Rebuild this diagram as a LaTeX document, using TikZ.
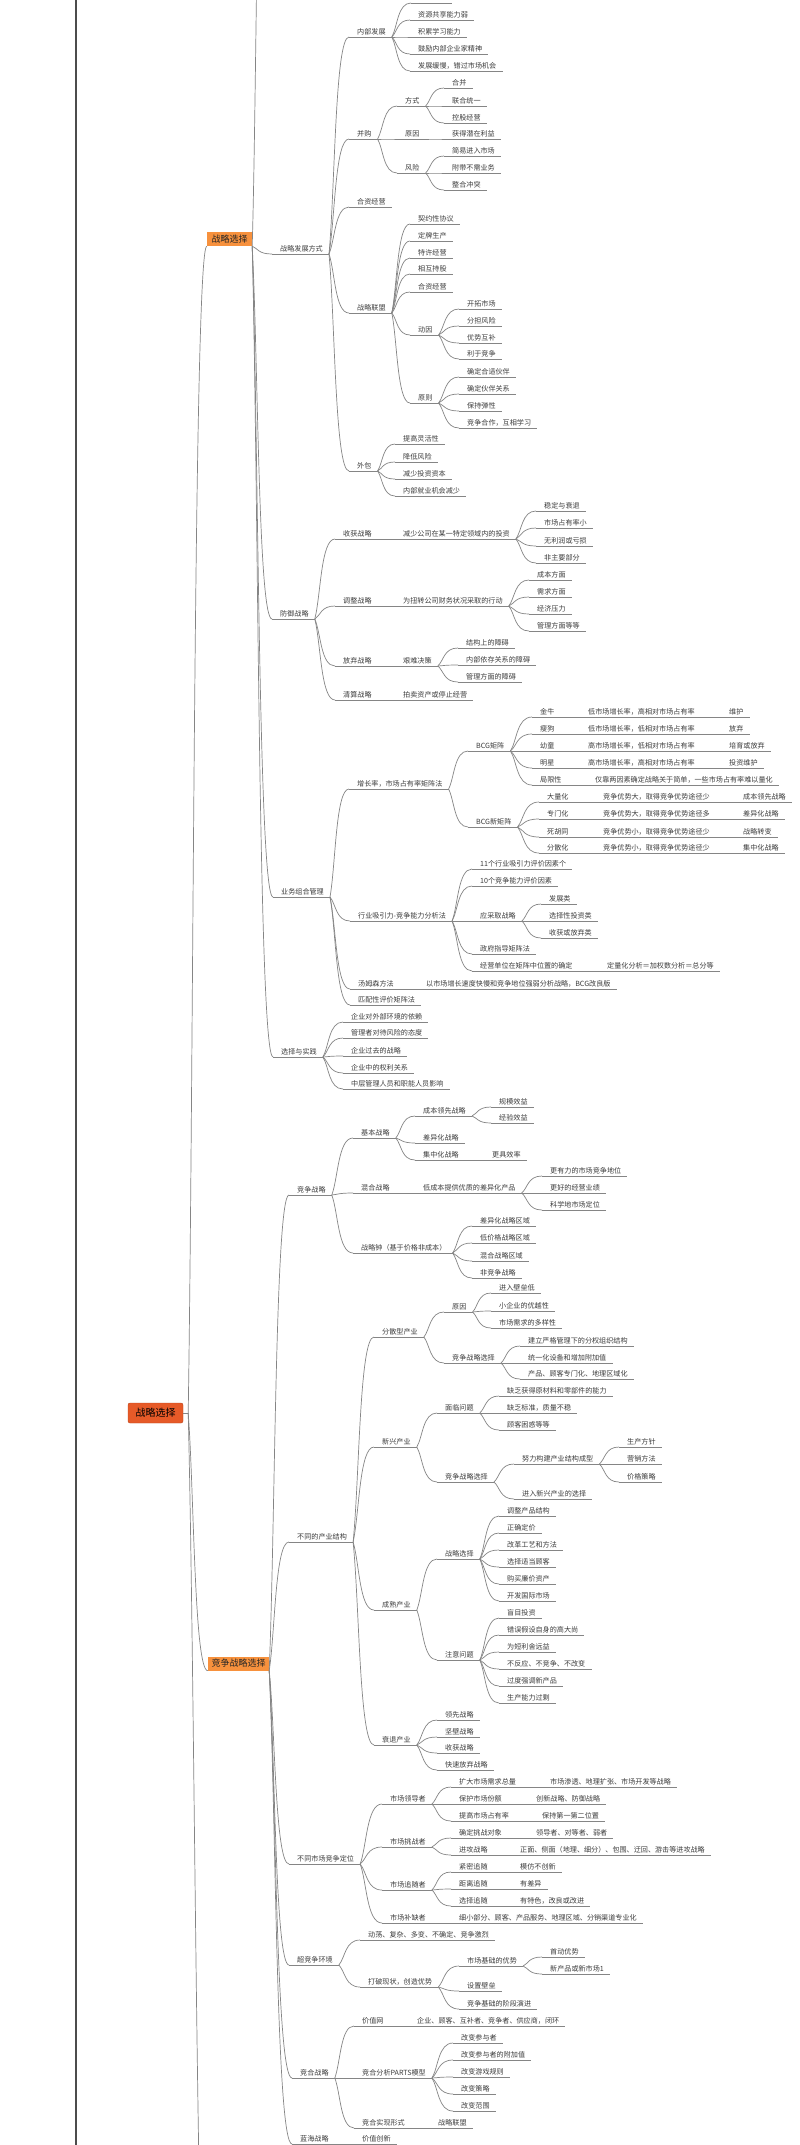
\documentclass[tikz,border=0pt]{standalone}
\usepackage{fontspec}
\setmainfont{Noto Sans CJK SC}
\usetikzlibrary{calc}
\definecolor{txt}{HTML}{3C3C3C}
\definecolor{lc}{HTML}{858585}
\definecolor{org}{HTML}{F7913D}
\definecolor{redf}{HTML}{E65A28}
\definecolor{redd}{HTML}{B8441C}
\newcommand\fs{\fontsize{7.1}{8}\selectfont}
\tikzset{
 tn/.style={anchor=south west, inner xsep=0pt, inner ysep=1.6pt, text height=5.6pt, text depth=1.1pt, font=\fs, text=txt},
 ln/.style={draw=lc, line width=0.7pt},
 obox/.style={fill=org, inner sep=0pt, minimum height=14pt, font=\fontsize{9}{10}\selectfont, text=black!85},
}
\newcommand\Cx[2]{\draw[ln] let \p1=(#1), \p2=(#2) in (\p1) .. controls ({\x1+0.3*(\x2-\x1)},{\y1+0.3*(\y2-\y1)}) and ({\x1+0.3*(\x2-\x1)},\y2) .. (\p2);}
\newcommand\C[2]{\Cx{#1.south east}{#2.south west}}
\newcommand\T[5]{\node[tn] (#1) at ({#3-8},#4) {\hspace*{8pt}#5\hspace*{6pt}};\draw[ln] (#1.south west) -- (#1.south east);\C{#2}{#1}}
\begin{document}
\begin{tikzpicture}[x=1pt,y=-1pt]
\useasboundingbox (0,0) rectangle (800,2145);
\fill[white] (0,0) rectangle (800,2145);
\clip (0,0) rectangle (800,2145);
% far-left trunk
\draw[line width=2pt, draw=black!70] (76,-5) -- (76,2150);
% main boxes
\node[fill=redf, draw=redd, rounded corners=2pt, minimum width=55pt, minimum height=20pt, inner sep=0pt, font=\fontsize{10}{12}\selectfont, text=black] (root) at (155.5,1413) {战略选择};
\node[obox, minimum width=45pt] (zl) at (229.5,239) {战略选择};
\node[obox, minimum width=61pt] (kz) at (238.5,1663.5) {竞争战略选择};
\draw[ln] (root.east) -- ++(5,0) coordinate (rj);
\coordinate (dn) at (215,2500);
\coordinate (up1) at (268,-300);
\Cx{rj}{zl.south west}
\Cx{rj}{kz.south west}
\Cx{rj}{dn}
\Cx{zl.south east}{up1}
% ===== 战略发展方式
\T{f1}{zl}{280}{254}{战略发展方式}
\T{f11}{f1}{357}{37}{内部发展}
\node[anchor=south west, inner sep=0pt, minimum width=41pt, minimum height=5pt] (f110) at (411,3) {};
\draw[ln] (f110.south west) -- (f110.south east); \C{f11}{f110}
\T{f111}{f11}{418}{20}{资源共享能力弱}
\T{f112}{f11}{418}{37}{积累学习能力}
\T{f113}{f11}{418}{54}{鼓励内部企业家精神}
\T{f114}{f11}{418}{71}{发展缓慢，错过市场机会}
\T{f12}{f1}{357}{139}{并购}
\T{f121}{f12}{405}{106}{方式}
\T{f1211}{f121}{452}{88}{合并}
\T{f1212}{f121}{452}{106}{联合统一}
\T{f1213}{f121}{452}{123}{控股经营}
\T{f122}{f12}{405}{139}{原因}
\T{f1221}{f122}{452}{139}{获得潜在利益}
\T{f123}{f12}{405}{173}{风险}
\T{f1231}{f123}{452}{156}{简易进入市场}
\T{f1232}{f123}{452}{173}{附带不需业务}
\T{f1233}{f123}{452}{190}{整合冲突}
\T{f13}{f1}{357}{207}{合资经营}
\T{f14}{f1}{357}{313}{战略联盟}
\T{f141}{f14}{418}{224}{契约性协议}
\T{f142}{f14}{418}{241}{定牌生产}
\T{f143}{f14}{418}{258}{特许经营}
\T{f144}{f14}{418}{274}{相互持股}
\T{f145}{f14}{418}{292}{合资经营}
\T{f146}{f14}{418}{335}{动因}
\T{f1461}{f146}{467}{309}{开拓市场}
\T{f1462}{f146}{467}{326}{分担风险}
\T{f1463}{f146}{467}{343}{优势互补}
\T{f1464}{f146}{467}{359}{利于竞争}
\T{f147}{f14}{418}{403}{原则}
\T{f1471}{f147}{467}{377}{确定合适伙伴}
\T{f1472}{f147}{467}{394}{确定伙伴关系}
\T{f1473}{f147}{467}{411}{保持弹性}
\T{f1474}{f147}{467}{428}{竞争合作，互相学习}
\T{f15}{f1}{357}{471}{外包}
\T{f151}{f15}{403}{444}{提高灵活性}
\T{f152}{f15}{403}{462}{降低风险}
\T{f153}{f15}{403}{479}{减少投资资本}
\T{f154}{f15}{403}{496}{内部就业机会减少}
% ===== 防御战略
\T{d}{zl}{280}{619}{防御战略}
\T{d1}{d}{343}{539}{收获战略}
\T{d11}{d1}{403}{539}{减少公司在某一特定领域内的投资}
\T{d111}{d11}{544}{511}{稳定与衰退}
\T{d112}{d11}{544}{528}{市场占有率小}
\T{d113}{d11}{544}{546}{无利润或亏损}
\T{d114}{d11}{544}{563}{非主要部分}
\T{d2}{d}{343}{606}{调整战略}
\T{d21}{d2}{403}{606}{为扭转公司财务状况采取的行动}
\T{d211}{d21}{537}{580}{成本方面}
\T{d212}{d21}{537}{597}{需求方面}
\T{d213}{d21}{537}{614}{经济压力}
\T{d214}{d21}{537}{631}{管理方面等等}
\T{d3}{d}{343}{666}{放弃战略}
\T{d31}{d3}{403}{666}{艰难决策}
\T{d311}{d31}{466}{648}{结构上的障碍}
\T{d312}{d31}{466}{665}{内部依存关系的障碍}
\T{d313}{d31}{466}{682}{管理方面的障碍}
\T{d4}{d}{343}{700}{清算战略}
\T{d41}{d4}{403}{700}{拍卖资产或停止经营}
% ===== 业务组合管理
\T{b}{zl}{281}{897}{业务组合管理}
\T{b1}{b}{357}{789}{增长率，市场占有率矩阵法}
\T{b11}{b1}{476}{751}{BCG矩阵}
\T{b111}{b11}{540}{717}{金牛}
\T{b111a}{b111}{588}{717}{低市场增长率，高相对市场占有率}
\T{b111b}{b111a}{729}{717}{维护}
\T{b112}{b11}{540}{734}{瘦狗}
\T{b112a}{b112}{588}{734}{低市场增长率，低相对市场占有率}
\T{b112b}{b112a}{729}{734}{放弃}
\T{b113}{b11}{540}{751}{幼童}
\T{b113a}{b113}{588}{751}{高市场增长率，低相对市场占有率}
\T{b113b}{b113a}{729}{751}{培育或放弃}
\T{b114}{b11}{540}{768}{明星}
\T{b114a}{b114}{588}{768}{高市场增长率，高相对市场占有率}
\T{b114b}{b114a}{729}{768}{投资维护}
\T{b115}{b11}{540}{785}{局限性}
\T{b115a}{b115}{595}{785}{仅靠两因素确定战略关于简单，一些市场占有率难以量化}
\T{b12}{b1}{476}{827}{BCG新矩阵}
\T{b121}{b12}{547}{802}{大量化}
\T{b121a}{b121}{603}{802}{竞争优势大，取得竞争优势途径少}
\T{b121b}{b121a}{743}{802}{成本领先战略}
\T{b122}{b12}{547}{819}{专门化}
\T{b122a}{b122}{603}{819}{竞争优势大，取得竞争优势途径多}
\T{b122b}{b122a}{743}{819}{差异化战略}
\T{b123}{b12}{547}{837}{死胡同}
\T{b123a}{b123}{603}{837}{竞争优势小，取得竞争优势途径少}
\T{b123b}{b123a}{743}{837}{战略转变}
\T{b124}{b12}{547}{853}{分散化}
\T{b124a}{b124}{603}{853}{竞争优势小，取得竞争优势途径少}
\T{b124b}{b124a}{743}{853}{集中化战略}
\T{b2}{b}{358}{921}{行业吸引力-竞争能力分析法}
\T{b21}{b2}{480}{869}{11个行业吸引力评价因素个}
\T{b22}{b2}{480}{886}{10个竞争能力评价因素}
\T{b23}{b2}{480}{921}{应采取战略}
\T{b231}{b23}{549}{904}{发展类}
\T{b232}{b23}{549}{921}{选择性投资类}
\T{b233}{b23}{549}{938}{收获或放弃类}
\T{b24}{b2}{480}{954}{政府指导矩阵法}
\T{b25}{b2}{480}{971}{经营单位在矩阵中位置的确定}
\T{b251}{b25}{607}{971}{定量化分析＝加权数分析＝总分等}
\T{b3}{b}{358}{989}{汤姆森方法}
\T{b31}{b3}{426}{989}{以市场增长速度快慢和竞争地位强弱分析战略，BCG改良版}
\T{b4}{b}{358}{1005}{匹配性评价矩阵法}
% ===== 选择与实践
\T{s}{zl}{281}{1057}{选择与实践}
\T{s1}{s}{351}{1022}{企业对外部环境的依赖}
\T{s2}{s}{351}{1038}{管理者对待风险的态度}
\T{s3}{s}{351}{1056}{企业过去的战略}
\T{s4}{s}{351}{1073}{企业中的权利关系}
\T{s5}{s}{351}{1089}{中层管理人员和职能人员影响}
% ===== 竞争战略
\T{k1}{kz}{297}{1195}{竞争战略}
\T{k11}{k1}{361}{1138}{基本战略}
\T{k111}{k11}{423}{1116}{成本领先战略}
\T{k1111}{k111}{499}{1107}{规模效益}
\T{k1112}{k111}{499}{1123}{经验效益}
\T{k112}{k11}{423}{1143}{差异化战略}
\T{k113}{k11}{423}{1160}{集中化战略}
\T{k1131}{k113}{492}{1160}{更具效率}
\T{k12}{k1}{361}{1193}{混合战略}
\T{k121}{k12}{423}{1193}{低成本提供优质的差异化产品}
\T{k1211}{k121}{550}{1176}{更有力的市场竞争地位}
\T{k1212}{k121}{550}{1193}{更好的经营业绩}
\T{k1213}{k121}{550}{1210}{科学地市场定位}
\T{k13}{k1}{361}{1253}{战略钟（基于价格非成本）}
\T{k131}{k13}{480}{1226}{差异化战略区域}
\T{k132}{k13}{480}{1243}{低价格战略区域}
\T{k133}{k13}{480}{1261}{混合战略区域}
\T{k134}{k13}{480}{1278}{非竞争战略}
% ===== 不同的产业结构
\T{k2}{kz}{297}{1542}{不同的产业结构}
\T{k21}{k2}{382}{1337}{分散型产业}
\T{k211}{k21}{452}{1312}{原因}
\T{k2111}{k211}{499}{1293}{进入壁垒低}
\T{k2112}{k211}{499}{1311}{小企业的优越性}
\T{k2113}{k211}{499}{1328}{市场需求的多样性}
\T{k212}{k21}{452}{1363}{竞争战略选择}
\T{k2121}{k212}{528}{1346}{建立严格管理下的分权组织结构}
\T{k2122}{k212}{528}{1363}{统一化设备和增加附加值}
\T{k2123}{k212}{528}{1379}{产品、顾客专门化、地理区域化}
\T{k22}{k2}{382}{1447}{新兴产业}
\T{k221}{k22}{445}{1413}{面临问题}
\T{k2211}{k221}{507}{1396}{缺乏获得原材料和零部件的能力}
\T{k2212}{k221}{507}{1413}{缺乏标准，质量不稳}
\T{k2213}{k221}{507}{1430}{顾客困惑等等}
\T{k222}{k22}{445}{1482}{竞争战略选择}
\T{k2221}{k222}{522}{1464}{努力构建产业结构成型}
\T{k22211}{k2221}{627}{1447}{生产方针}
\T{k22212}{k2221}{627}{1464}{营销方法}
\T{k22213}{k2221}{627}{1482}{价格策略}
\T{k2222}{k222}{522}{1499}{进入新兴产业的选择}
\T{k23}{k2}{382}{1610}{成熟产业}
\T{k231}{k23}{445}{1559}{战略选择}
\T{k2311}{k231}{507}{1516}{调整产品结构}
\T{k2312}{k231}{507}{1533}{正确定价}
\T{k2313}{k231}{507}{1550}{改革工艺和方法}
\T{k2314}{k231}{507}{1567}{选择适当顾客}
\T{k2315}{k231}{507}{1584}{购买廉价资产}
\T{k2316}{k231}{507}{1601}{开发国际市场}
\T{k232}{k23}{445}{1660}{注意问题}
\T{k2321}{k232}{507}{1618}{盲目投资}
\T{k2322}{k232}{507}{1635}{错误假设自身的高大尚}
\T{k2323}{k232}{507}{1652}{为短利舍远益}
\T{k2324}{k232}{507}{1669}{不反应、不竞争、不改变}
\T{k2325}{k232}{507}{1686}{过度强调新产品}
\T{k2326}{k232}{507}{1703}{生产能力过剩}
\T{k24}{k2}{382}{1745}{衰退产业}
\T{k241}{k24}{445}{1720}{领先战略}
\T{k242}{k24}{445}{1737}{坚壁战略}
\T{k243}{k24}{445}{1753}{收获战略}
\T{k244}{k24}{445}{1770}{快速放弃战略}
% ===== 不同市场竞争定位
\T{k3}{kz}{297}{1864}{不同市场竞争定位}
\T{k31}{k3}{390}{1804}{市场领导者}
\T{k311}{k31}{459}{1787}{扩大市场需求总量}
\T{k3111}{k311}{550}{1787}{市场渗透、地理扩张、市场开发等战略}
\T{k312}{k31}{459}{1804}{保护市场份额}
\T{k3121}{k312}{536}{1804}{创新战略、防御战略}
\T{k313}{k31}{459}{1821}{提高市场占有率}
\T{k3131}{k313}{542}{1821}{保持第一第二位置}
\T{k32}{k3}{390}{1847}{市场挑战者}
\T{k321}{k32}{459}{1838}{确定挑战对象}
\T{k3211}{k321}{536}{1838}{领导者、对等者、弱者}
\T{k322}{k32}{459}{1855}{进攻战略}
\T{k3221}{k322}{520}{1855}{正面、侧面（地理、细分）、包围、迂回、游击等进攻战略}
\T{k33}{k3}{390}{1890}{市场追随者}
\T{k331}{k33}{459}{1872}{紧密追随}
\T{k3311}{k331}{520}{1872}{模仿不创新}
\T{k332}{k33}{459}{1889}{距离追随}
\T{k3321}{k332}{520}{1889}{有差异}
\T{k333}{k33}{459}{1906}{选择追随}
\T{k3331}{k333}{520}{1906}{有特色，改良或改进}
\T{k34}{k3}{390}{1923}{市场补缺者}
\T{k341}{k34}{459}{1923}{细小部分、顾客、产品服务、地理区域、分销渠道专业化}
% ===== 超竞争环境
\T{k4}{kz}{297}{1965}{超竞争环境}
\T{k41}{k4}{368}{1940}{动荡、复杂、多变、不确定、竞争激烈}
\T{k42}{k4}{368}{1987}{打破现状，创造优势}
\T{k421}{k42}{467}{1966}{市场基础的优势}
\T{k4211}{k421}{550}{1957}{首动优势}
\T{k4212}{k421}{550}{1974}{新产品或新市场1}
\T{k422}{k42}{467}{1991}{设置壁垒}
\T{k423}{k42}{467}{2009}{竞争基础的阶段演进}
% ===== 竞合战略
\T{k5}{kz}{300}{2078}{竞合战略}
\T{k51}{k5}{362}{2026}{价值网}
\T{k511}{k51}{417}{2026}{企业、顾客、互补者、竞争者、供应商，闭环}
\T{k52}{k5}{362}{2078}{竞合分析PARTS模型}
\T{k521}{k52}{461}{2043}{改变参与者}
\T{k522}{k52}{461}{2060}{改变参与者的附加值}
\T{k523}{k52}{461}{2077}{改变游戏规则}
\T{k524}{k52}{461}{2094}{改变策略}
\T{k525}{k52}{461}{2111}{改变范围}
\T{k53}{k5}{362}{2128}{竞合实现形式}
\T{k531}{k53}{438}{2128}{战略联盟}
\T{k6}{kz}{300}{2144}{蓝海战略}
\T{k61}{k6}{362}{2144}{价值创新}
\end{tikzpicture}
\end{document}
